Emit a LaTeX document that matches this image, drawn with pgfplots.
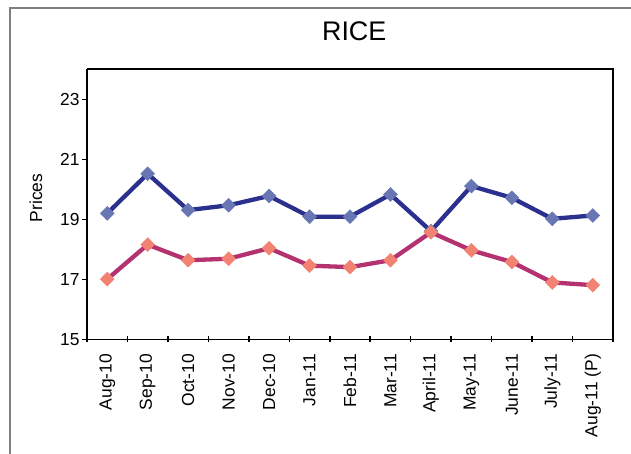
\documentclass[border=0pt]{standalone}
\usepackage{pgfplots}
\pgfplotsset{compat=1.18}
\usepackage{fontspec}
\setmainfont{Liberation Sans}
\definecolor{bline}{HTML}{2B2F8E}
\definecolor{bmark}{HTML}{6877B3}
\definecolor{rline}{HTML}{B3326F}
\definecolor{rmark}{HTML}{F28272}
\definecolor{frame}{HTML}{7F7F7F}
\begin{document}
\begin{tikzpicture}[x=1bp,y=1bp]
\draw[frame, line width=1.2bp] (10,-30) rectangle (680,446);
\begin{axis}[
  at={(87bp,114.5bp)}, anchor=south west,
  width=526bp, height=270.2bp, scale only axis,
  xmin=-0.5, xmax=12.5, ymin=15, ymax=24,
  ytick={15,17,19,21,23},
  xtick={0,...,12},
  xticklabels={Aug-10,Sep-10,Oct-10,Nov-10,Dec-10,Jan-11,Feb-11,Mar-11,April-11,May-11,June-11,July-11,Aug-11 (P)},
  minor xtick={-0.5,0.5,...,12.5},
  major x tick style={draw=none},
  tick align=outside,
  major tick length=5bp,
  minor tick length=6bp,
  minor x tick style={yshift=3bp, line width=1.5bp, black},
  y tick style={line width=1.5bp, black},
  axis line style={line width=1.8bp},
  axis x line*=bottom, axis y line*=left,
  /pgf/number format/assume math mode=true,
  tick label style={font=\fontsize{17.5}{17.5}\selectfont},
  x tick label style={rotate=90, anchor=east, yshift=0bp},
  xticklabel shift={6bp},
  yticklabel shift={-1bp},
  ylabel={Prices},
  ylabel style={at={(axis description cs:-0.097,0.524)}, anchor=center, font=\fontsize{17.5}{17.5}\selectfont},
  title={RICE},
  title style={at={(axis description cs:0.508,1.12)}, anchor=center, font=\fontsize{27}{27}\selectfont},
  clip=false,
]
\draw[line width=1.8bp] (axis cs:12.5,15) -- (axis cs:12.5,24) -- (axis cs:-0.5,24);
\addplot[bline, line width=4.3bp, mark=square*, mark size=4.9bp,
  mark options={rotate=45, fill=bmark, draw=bmark, line width=0.5bp}]
  coordinates {(0,19.20) (1,20.52) (2,19.31) (3,19.47) (4,19.78) (5,19.09) (6,19.09) (7,19.83) (8,18.61) (9,20.11) (10,19.72) (11,19.02) (12,19.13)};
\addplot[rline, line width=4.3bp, mark=square*, mark size=4.9bp,
  mark options={rotate=45, fill=rmark, draw=rmark, line width=0.5bp}]
  coordinates {(0,17.01) (1,18.16) (2,17.64) (3,17.69) (4,18.04) (5,17.46) (6,17.41) (7,17.64) (8,18.57) (9,17.97) (10,17.58) (11,16.90) (12,16.81)};
\end{axis}
\pgfresetboundingbox
\path (0,0) rectangle (631,454);
\end{tikzpicture}
\end{document}
